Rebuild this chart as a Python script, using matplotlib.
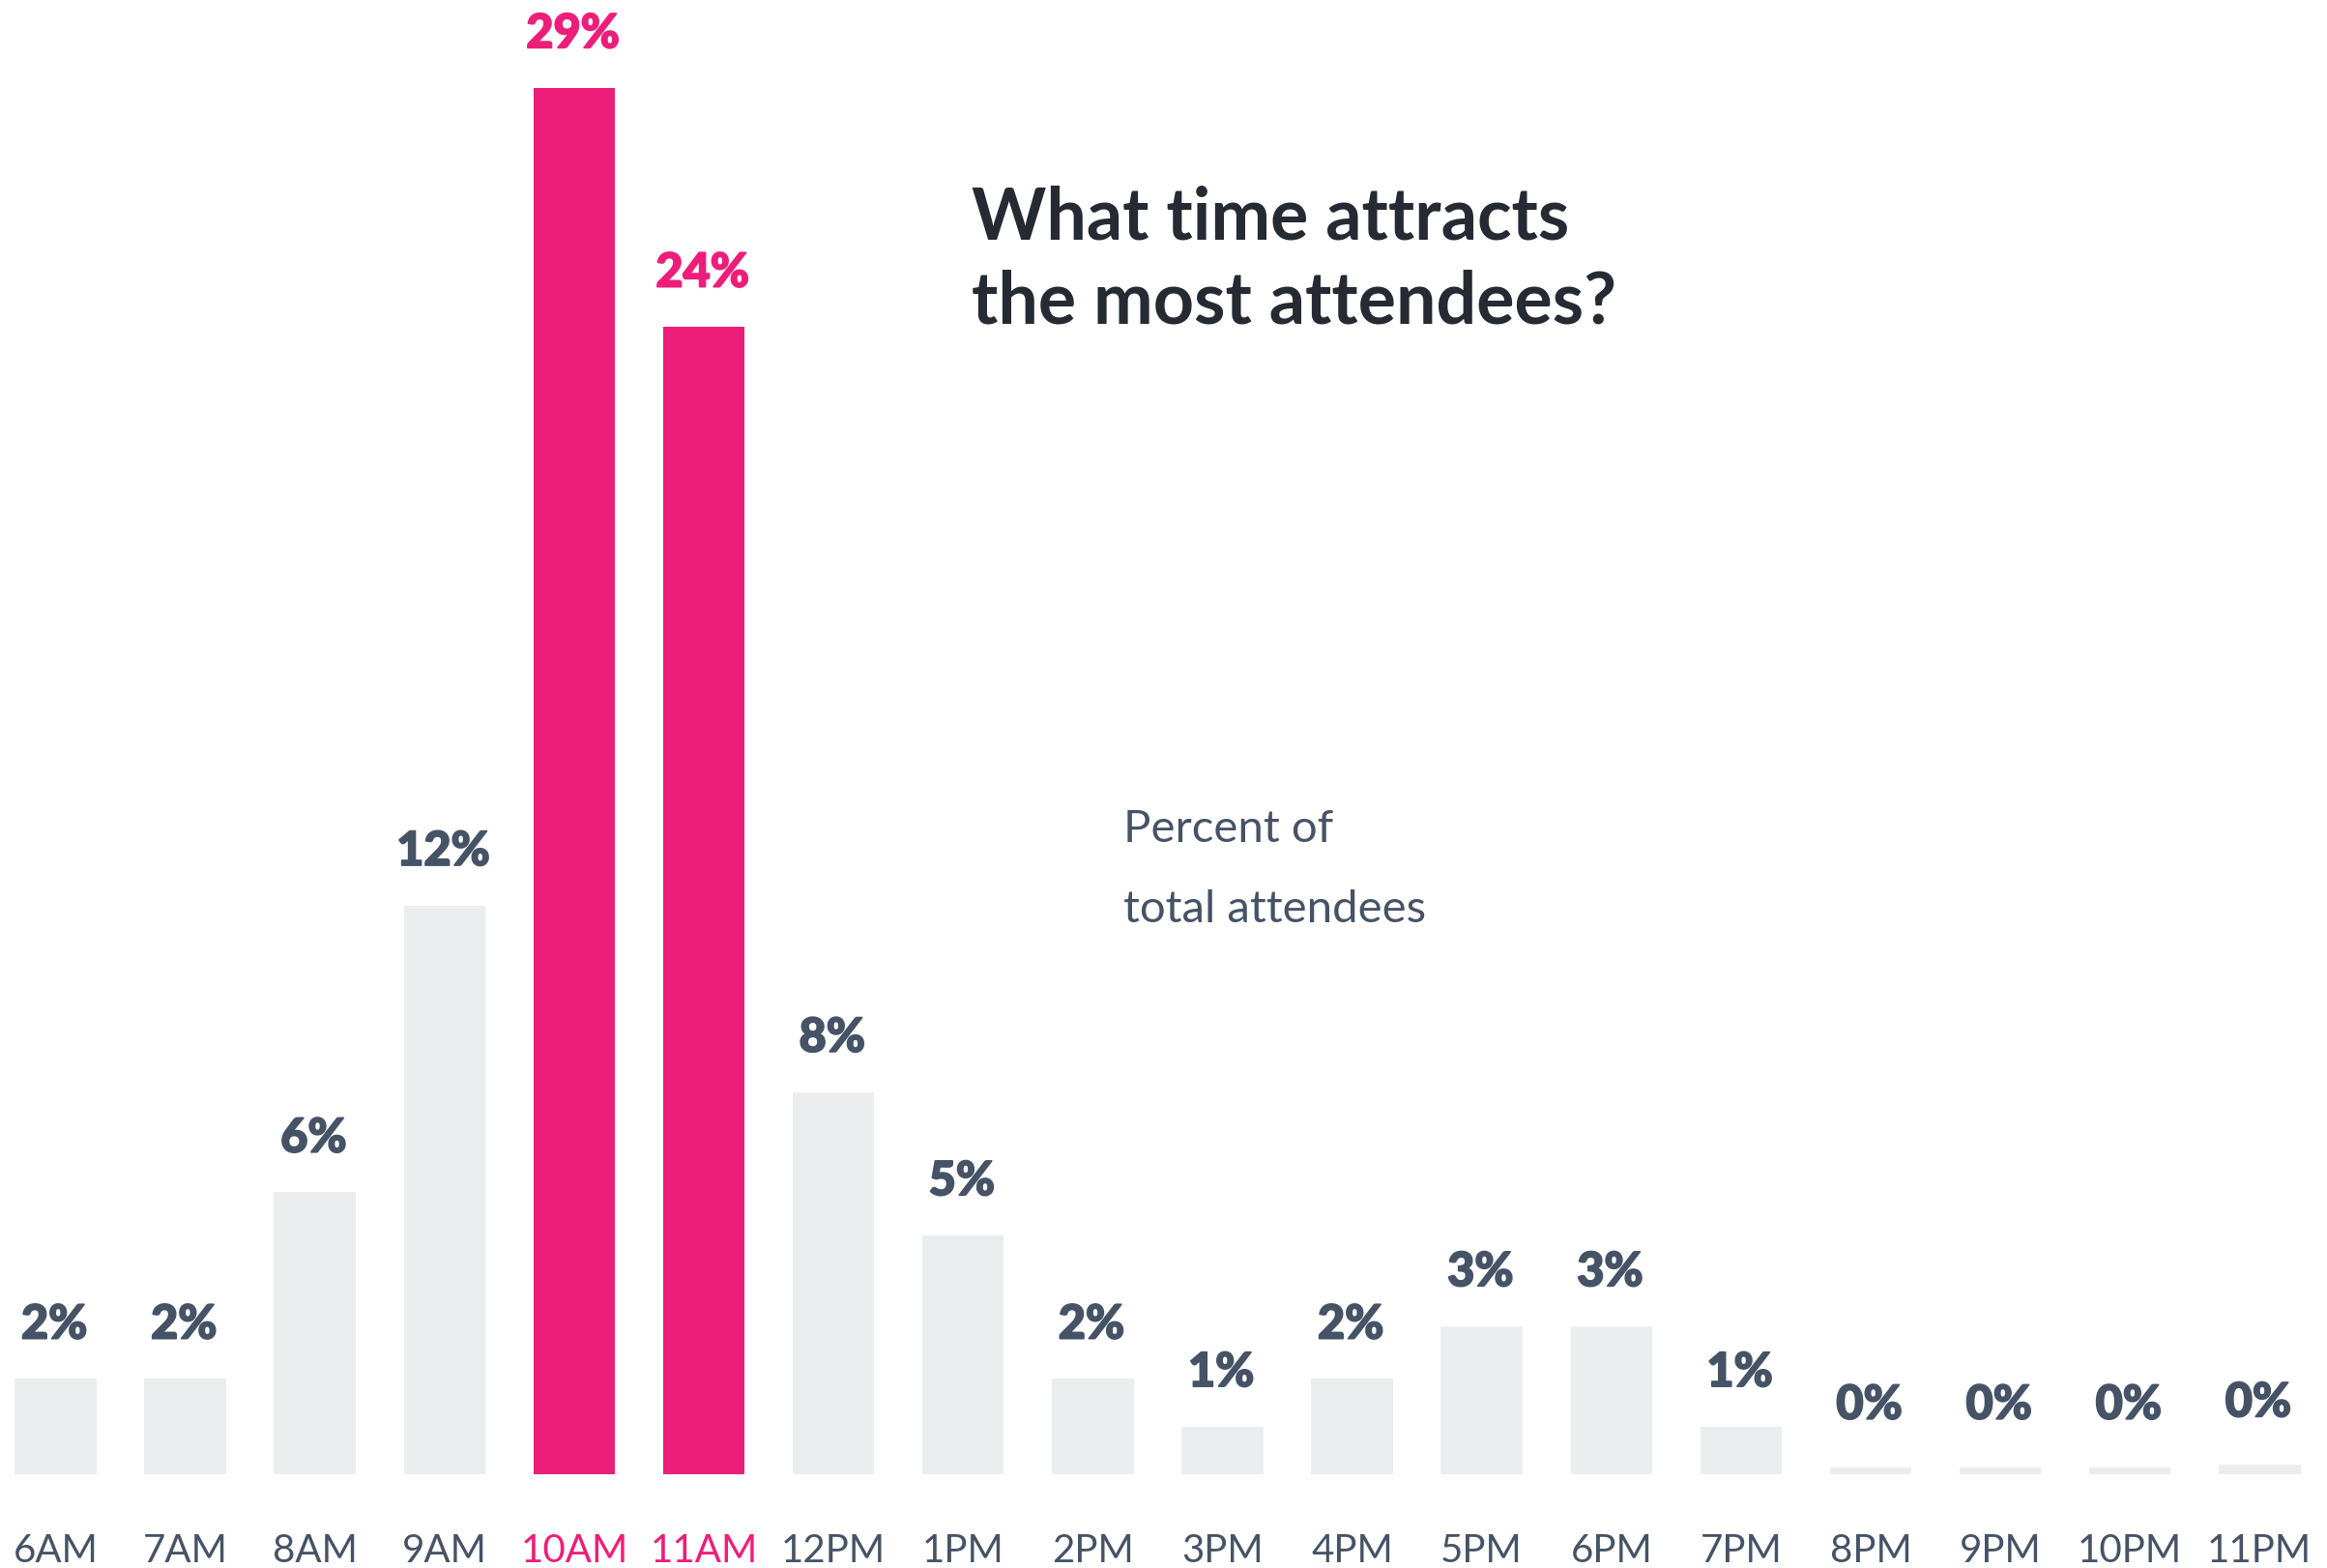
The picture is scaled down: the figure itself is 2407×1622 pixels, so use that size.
import matplotlib
matplotlib.use("Agg")
import matplotlib.pyplot as plt
import matplotlib.patheffects as pe

categories = ["6AM", "7AM", "8AM", "9AM", "10AM", "11AM", "12PM", "1PM", "2PM",
              "3PM", "4PM", "5PM", "6PM", "7PM", "8PM", "9PM", "10PM", "11PM"]
values = [2, 2, 5.9, 11.9, 29, 24, 8, 5, 2, 1, 2, 3.1, 3.1, 1, 0.15, 0.15, 0.15, 0.2]
labels = ["2%", "2%", "6%", "12%", "29%", "24%", "8%", "5%", "2%",
          "1%", "2%", "3%", "3%", "1%", "0%", "0%", "0%", "0%"]
highlight = ["10AM", "11AM"]

PINK = "#ED1E79"
GRAY = "#ECEDEF"
SLATE = "#465366"
DARK = "#252A33"

plt.rcParams['font.family'] = ['Lato', 'DejaVu Sans']

fig = plt.figure(figsize=(24.07, 16.22), dpi=100)
fig.patch.set_facecolor("white")
ax = fig.add_axes([0, 0.0597, 1, 0.9403])

x = list(range(len(categories)))
colors = [PINK if c in highlight else GRAY for c in categories]
ax.bar(x, values, width=0.63, color=colors, linewidth=0)

for xi, v, lab, c in zip(x, values, labels, categories):
    col = PINK if c in highlight else SLATE
    off = 30 if v >= 0.5 else 36
    ax.annotate(lab, (xi, v), xytext=(-1, off), textcoords="offset points",
                ha="center", va="baseline", fontsize=35, fontweight="black",
                color=col,
                path_effects=[pe.withStroke(linewidth=1.3, foreground=col)])

ax.set_xlim(-0.429, 17.52)
ax.set_ylim(0, 30.84)
ax.set_xticks(x)
ax.set_xticklabels(categories, fontsize=29, color=SLATE)
for t, c in zip(ax.get_xticklabels(), categories):
    if c in highlight:
        t.set_color(PINK)
ax.tick_params(axis="x", length=0, pad=44)
ax.set_yticks([])
for s in ax.spines.values():
    s.set_visible(False)
ax.set_facecolor("none")

fig.text(0.4177, 0.8475, "What time attracts", fontsize=53, fontweight="bold",
         color=DARK, va="baseline", ha="left")
fig.text(0.4177, 0.7936, "the most attendees?", fontsize=53, fontweight="bold",
         color=DARK, va="baseline", ha="left")
fig.text(0.4828, 0.4631, "Percent of", fontsize=34, color=SLATE,
         va="baseline", ha="left")
fig.text(0.4828, 0.4119, "total attendees", fontsize=34, color=SLATE,
         va="baseline", ha="left")

fig.savefig("out.png", dpi=100, facecolor="white")
